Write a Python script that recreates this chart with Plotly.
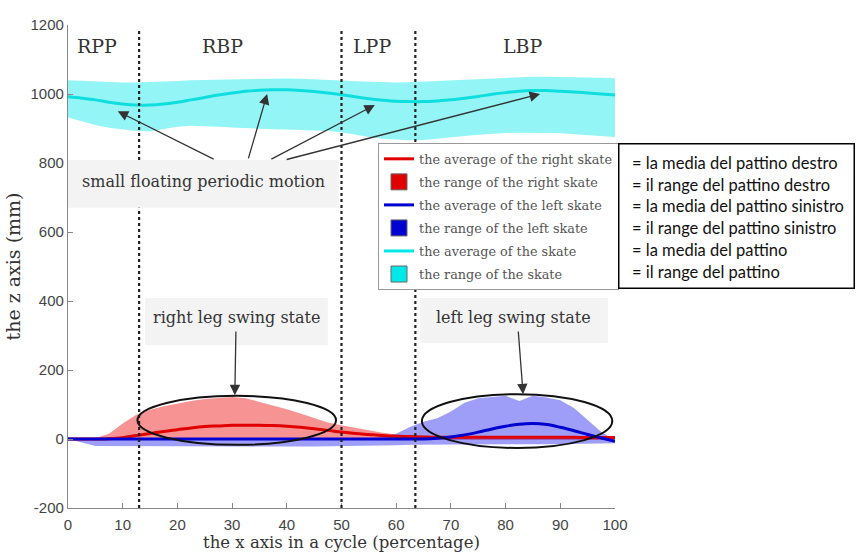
import plotly.graph_objects as go

# ---------------- data ----------------
x_pct = [i * 2.5 for i in range(41)]

right_avg = [0, 0, 0, 1, 4, 10, 16, 22, 27, 32, 36, 38, 40, 40, 40, 39, 37, 34, 30, 25,
             20, 16, 13, 10, 8, 7, 6, 5, 5, 5, 5, 5, 5, 5, 5, 5, 5, 5, 4, 4, 4]
right_upper = [0, 0, 2, 15, 45, 70, 85, 95, 103, 110, 116, 120, 122, 118, 108, 98, 86, 74, 62, 48,
               40, 32, 25, 18, 13, 10, 8, 8, 8, 8, 8, 8, 8, 8, 8, 8, 8, 8, 8, 8, 8]
right_lower = [0, -2, -3, -3, -3, -3, -3, -3, -3, -3, -3, -3, -3, -3, -3, -3, -3, -3, -3, -3,
               -3, -3, -3, -3, -3, -3, -3, -3, -3, -3, -3, -3, -3, -3, -3, -3, -3, -3, -3, -3, -3]

left_avg = [0, 0, 0, 0, 0, 0, 0, 0, 0, 0, 0, 0, 0, 0, 0, 0, 0, 0, 0, 0,
            0, 0, 0, 0, 0, 0, 0, 2, 6, 12, 20, 29, 37, 43, 45, 42, 34, 24, 13, 3, -7]
left_upper = [2, 2, 2, 2, 2, 2, 2, 2, 2, 2, 2, 2, 2, 2, 2, 2, 2, 2, 2, 2,
              2, 2, 2, 5, 15, 35, 50, 60, 80, 105, 118, 122, 125, 110, 125, 120, 112, 90, 55, 20, -3]
left_lower = [0, -10, -20, -22, -22, -22, -22, -22, -22, -22, -22, -22, -22, -22, -22, -22, -22, -22, -22, -22,
              -21, -20, -20, -19, -18, -17, -16, -15, -15, -15, -15, -15, -15, -15, -15, -15, -15, -15, -14, -13, -12]

skate_avg = [992, 988, 983, 976, 971, 968, 968, 971, 976, 983, 990, 997, 1003, 1008, 1011, 1012, 1012, 1010, 1007, 1003,
             998, 992, 986, 982, 979, 978, 978, 980, 983, 988, 993, 999, 1004, 1008, 1010, 1010, 1008, 1006, 1003, 1000, 997]
skate_upper = [1040, 1038, 1036, 1034, 1033, 1033, 1034, 1036, 1038, 1040, 1041, 1042, 1043, 1044, 1045, 1045, 1045, 1044, 1043, 1041,
               1039, 1037, 1035, 1034, 1033, 1034, 1036, 1038, 1040, 1042, 1044, 1046, 1048, 1049, 1050, 1050, 1050, 1049, 1048, 1047, 1046]
skate_lower = [932, 920, 910, 902, 897, 893, 892, 898, 905, 908, 907, 905, 903, 901, 899, 898, 897, 896, 895, 893,
               889, 882, 875, 870, 867, 866, 867, 870, 874, 878, 882, 885, 887, 888, 888, 887, 886, 884, 881, 878, 875]

y_tickvals = [-200, 0, 200, 400, 600, 800, 1000, 1200]
y_ticktext = ["-200", "0", "200", "400", "600", "800", "1000", "1200"]

phase_bounds = [13, 50, 63.5]
phase_labels = ["RPP", "RBP", "LPP", "LBP"]
phase_label_x = [5.3, 28.3, 55.6, 83.2]

legend_names = ["the average of the right skate", "the range of the right skate",
                "the average of the left skate", "the range of the left skate",
                "the average of the skate", "the range of the skate"]
italian_names = ["= la media del pattino destro", "= il range del pattino destro",
                 "= la media del pattino sinistro", "= il range del pattino sinistro",
                 "= la media del pattino", "= il range del pattino"]

RED, BLUE, CYAN = "#e00000", "#0000d0", "#00e8e8"
SERIF = "DejaVu Serif"
SANS = "Liberation Sans"

fig = go.Figure()


def band(upper, lower, color):
    fig.add_trace(go.Scatter(x=x_pct + x_pct[::-1], y=upper + lower[::-1], fill="toself",
                             fillcolor=color, line=dict(width=0), mode="lines",
                             showlegend=False, hoverinfo="skip"))


def avg(vals, color):
    fig.add_trace(go.Scatter(x=x_pct, y=vals, mode="lines", line=dict(color=color, width=3, shape="spline"),
                             showlegend=False))


band(skate_upper, skate_lower, "rgba(40,235,235,0.5)")
avg(skate_avg, "#10dede")
band(right_upper, right_lower, "rgba(240,40,40,0.5)")
band(left_upper, left_lower, "rgba(40,40,240,0.45)")
avg(right_avg, RED)
avg(left_avg, BLUE)

# legend-only entries
leg_styles = [("line", RED), ("fill", RED), ("line", BLUE), ("fill", BLUE), ("line", CYAN), ("fill", CYAN)]
for i, (name, (kind, col)) in enumerate(zip(legend_names, leg_styles)):
    if kind == "line":
        fig.add_trace(go.Scatter(x=[None], y=[None], mode="lines", name=name, legendgroup=f"g{i}",
                                 line=dict(color=col, width=3), legendrank=i + 1))
    else:
        fig.add_trace(go.Scatter(x=[None], y=[None], mode="markers", name=name, legendgroup=f"g{i}",
                                 marker=dict(symbol="square", size=16, color=col,
                                             line=dict(color="#666", width=1)),
                                 legendrank=i + 1))

shapes = []
for b in phase_bounds:
    shapes.append(dict(type="line", xref="x", yref="y", x0=b, x1=b, y0=-200, y1=1185, layer="above",
                       line=dict(color="#222", width=2.2, dash="3px,3px")))
# grey text boxes
for (x0, x1, y0, y1) in [(0, 49.5, 670, 809), (14.1, 47.5, 272, 409), (64.4, 98.7, 278, 409)]:
    shapes.append(dict(type="rect", xref="x", yref="y", x0=x0, x1=x1, y0=y0, y1=y1, layer="above",
                       fillcolor="#f3f3f3", line=dict(width=0)))
# ellipses
for (x0, x1, y0, y1) in [(12.7, 49.0, -17, 125), (64.7, 99.5, -26, 130)]:
    shapes.append(dict(type="circle", xref="x", yref="y", x0=x0, x1=x1, y0=y0, y1=y1, layer="above",
                       line=dict(color="#111", width=2)))
fig.update_layout(shapes=shapes)

ann = []
for lab, lx in zip(phase_labels, phase_label_x):
    ann.append(dict(x=lx, y=1140, xref="x", yref="y", text=lab, showarrow=False,
                    font=dict(family=SERIF, size=19, color="#333")))
ann.append(dict(x=24.7, y=745, xref="x", yref="y", text="small floating periodic motion", showarrow=False,
                font=dict(family=SERIF, size=16, color="#333")))
ann.append(dict(x=30.8, y=352, xref="x", yref="y", text="right leg swing state", showarrow=False,
                font=dict(family=SERIF, size=16, color="#333")))
ann.append(dict(x=81.5, y=352, xref="x", yref="y", text="left leg swing state", showarrow=False,
                font=dict(family=SERIF, size=16, color="#333")))

arrows = [((26.9, 809), (9.1, 950)), ((32.9, 809), (36.4, 1000)), ((36.9, 809), (56.1, 968)),
          ((39.7, 809), (86.3, 1000)), ((30.7, 316), (30.5, 127)), ((82.3, 316), (83.2, 130))]
for (tx, ty), (hx, hy) in arrows:
    ann.append(dict(x=hx, y=hy, ax=tx, ay=ty, xref="x", yref="y", axref="x", ayref="y", text="",
                    showarrow=True, arrowhead=2, arrowsize=1.6, arrowwidth=1.3, arrowcolor="#333",
                    standoff=0, startstandoff=0))

# Italian translation box
ann.append(dict(x=(618 - 68) / 547, y=(508 - 143) / 483, xref="paper", yref="paper", xanchor="left",
                yanchor="top", text=" ", showarrow=False, width=234, height=143, bgcolor="white",
                bordercolor="black", borderwidth=1.5, borderpad=0))
for i, t in enumerate(italian_names):
    py = 163 + i * 21.7
    ann.append(dict(x=(630 - 68) / 547, y=(508 - py) / 483, xref="paper", yref="paper", xanchor="left",
                    yanchor="middle", text=t, showarrow=False,
                    font=dict(family="Lato", size=16.5, color="#111")))
fig.update_layout(annotations=ann)

fig.update_layout(
    width=857, height=553,
    margin=dict(l=68, r=242, t=25, b=45),
    paper_bgcolor="white", plot_bgcolor="white",
    legend=dict(x=(378 - 68) / 547, y=(508 - 143) / 483, xanchor="left", yanchor="top",
                bgcolor="white", bordercolor="#999", borderwidth=1, traceorder="grouped",
                font=dict(family=SERIF, size=12.8, color="#555"), itemwidth=30, tracegroupgap=3.4),
    xaxis=dict(range=[0, 100], dtick=10, ticks="inside", ticklen=5, tickcolor="#888",
               showline=True, linecolor="#888", linewidth=1.3, showgrid=False, zeroline=False,
               tickfont=dict(family=SANS, size=15, color="#444"), ticklabelstandoff=3,
               automargin=False,
               title=dict(text="the x axis in a cycle (percentage)", standoff=4,
                          font=dict(family=SERIF, size=16.5, color="#333"))),
    yaxis=dict(range=[-200, 1200], tickvals=y_tickvals, ticktext=y_ticktext, ticks="inside", ticklen=5,
               tickcolor="#888",
               showline=True, linecolor="#888", linewidth=1.3, showgrid=False, zeroline=False,
               tickfont=dict(family=SANS, size=15, color="#444"), automargin=False,
               title=dict(text="the z axis (mm)", standoff=4,
                          font=dict(family=SERIF, size=19, color="#333"))),
)

fig.write_html("out.html")
